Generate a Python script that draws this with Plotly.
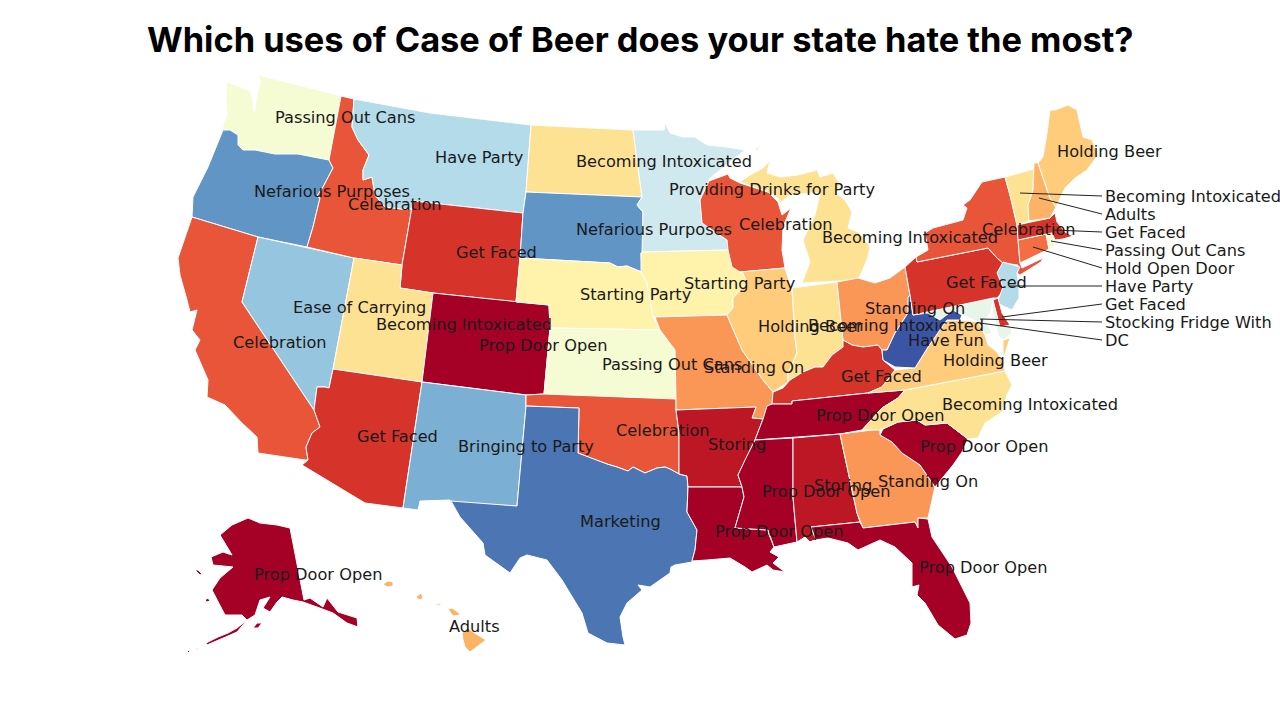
import plotly.graph_objects as go

# outlines, no topojson available offline
WA = [(227,82),(250,91),(253,100),(253,111),(255,111),(256,100),(258,90),(261,82),(258,75),(341,96),(329,160),(298,154),(275,154),(255,150),(243,150),(238,145),(238,135),(230,130),(223,130),(223,123),(227,117),(226,97)]
OR = [(223,130),(230,130),(238,135),(238,145),(243,150),(255,150),(275,154),(298,154),(329,160),(333,168),(323,187),(317,196),(320,198),(317,210),(313,227),(307,247),(258,237),(192,217),(193,197),(208,167),(222,132)]
CA = [(192,217),(258,237),(242,302),(314,410),(320,427),(312,433),(306,447),(308,460),(305,460),(258,453),(257,437),(242,423),(225,405),(207,397),(208,380),(195,350),(200,340),(192,330),(197,310),(190,312),(187,300),(180,275),(178,258),(186,235)]
NV = [(258,237),(354,258),(333,369),(329,388),(325,387),(317,387),(314,410),(242,302)]
ID = [(341,96),(354,99),(352,127),(358,140),(369,155),(363,170),(363,180),(372,177),(375,195),(385,207),(402,209),(412,209),(413,201),(402,265),(354,258),(307,247),(313,227),(317,210),(320,198),(317,196),(323,187),(333,168),(329,160)]
MT = [(354,99),(430,113),(531,125),(526,192),(523,213),(413,201),(412,209),(402,209),(385,207),(375,195),(372,177),(363,180),(363,170),(369,155),(358,140),(352,127)]
WY = [(413,201),(523,213),(520,258),(516,302),(433,293),(400,288),(402,265)]
UT = [(354,258),(402,265),(400,288),(433,293),(422,382),(333,369)]
AZ = [(333,369),(422,382),(403,508),(365,503),(302,465),(308,460),(306,447),(312,433),(320,427),(314,410),(317,387),(325,387),(329,388)]
CO = [(433,293),(516,302),(549,305),(550,328),(544,394),(526,395),(422,382)]
NM = [(422,382),(526,395),(526,406),(517,506),(451,503),(450,500),(420,501),(418,510),(403,508)]
ND = [(531,125),(633,130),(642,197),(526,192)]
SD = [(526,192),(642,197),(637,205),(643,212),(643,252),(641,253),(642,272),(627,266),(618,267),(610,263),(520,258),(523,213)]
NE = [(520,258),(610,263),(618,267),(627,266),(641,272),(647,283),(653,317),(660,330),(550,328),(549,305),(516,302)]
KS = [(550,328),(660,330),(675,350),(676,399),(544,394)]
OK = [(526,395),(544,394),(676,399),(676,410),(679,433),(679,474),(670,469),(665,467),(657,468),(645,473),(633,467),(628,471),(617,467),(607,464),(593,459),(578,453),(579,408),(526,406)]
TX = [(526,406),(579,408),(578,453),(593,459),(607,464),(617,467),(628,471),(633,467),(645,473),(657,468),(665,467),(670,469),(679,474),(687,476),(688,487),(687,512),(697,530),(695,550),(692,562),(675,565),(671,567),(670,573),(650,587),(638,585),(642,590),(627,603),(620,617),(623,637),(625,645),(607,643),(588,633),(582,613),(562,580),(547,560),(527,555),(520,558),(510,573),(485,555),(483,543),(460,517),(451,501),(517,506)]
MN = [(633,130),(664,130),(665,123),(670,133),(683,137),(695,137),(707,145),(727,147),(745,150),(710,178),(709,181),(700,200),(702,223),(727,240),(728,250),(642,252),(643,212),(637,205),(642,197)]
IA = [(642,252),(728,250),(732,267),(743,273),(747,283),(733,298),(733,308),(727,315),(655,317),(653,317),(647,283),(641,272),(641,253)]
MO = [(655,317),(727,315),(742,350),(763,380),(773,392),(772,404),(763,419),(752,418),(756,407),(676,410),(676,399),(675,350),(660,330)]
AR = [(676,410),(756,407),(752,418),(763,419),(755,440),(745,460),(738,475),(742,487),(688,487),(687,476),(679,474),(679,433)]
LA = [(688,487),(742,487),(744,497),(735,528),(768,530),(768,532),(774,547),(770,552),(779,557),(773,563),(785,572),(773,570),(767,565),(752,572),(745,567),(730,558),(707,560),(692,561),(695,550),(697,530),(687,512)]
WI = [(709,181),(728,174),(730,178),(740,183),(768,192),(778,202),(782,215),(791,208),(783,227),(782,250),(785,268),(740,272),(732,267),(728,250),(727,240),(702,223),(700,200)]
IL = [(740,272),(785,268),(792,290),(795,337),(797,353),(788,373),(788,382),(780,387),(773,392),(763,380),(742,350),(727,315),(733,308),(733,298),(747,283),(743,273)]
IN = [(792,288),(837,282),(843,340),(843,347),(832,355),(823,367),(815,367),(803,372),(790,380),(788,382),(788,373),(797,353),(795,337)]
MI = [(740,182),(750,175),(763,168),(770,160),(767,173),(780,177),(798,175),(817,170),(820,177),(833,173),(840,184),(836,193),(845,200),(852,212),(848,228),(858,232),(863,237),(870,247),(867,260),(858,280),(802,283),(810,262),(803,240),(815,215),(818,202),(820,193),(812,193),(790,195),(780,203),(778,198),(768,192)]
MI_ISLE = [(755,150),(760,145),(758,150)]
OH = [(837,282),(858,278),(875,283),(890,278),(905,267),(910,295),(908,313),(895,333),(887,350),(882,350),(878,345),(863,347),(852,345),(843,340)]
KY = [(772,404),(773,392),(783,388),(790,380),(803,372),(815,367),(823,367),(832,355),(843,347),(843,340),(852,345),(863,347),(878,345),(882,350),(883,360),(895,370),(882,387),(868,393),(792,401),(792,404)]
TN = [(767,406),(772,404),(792,404),(792,401),(868,393),(905,390),(898,398),(882,408),(862,430),(840,434),(755,440),(763,419)]
MS = [(755,440),(793,438),(793,497),(797,542),(774,547),(768,532),(768,530),(735,528),(744,497),(742,487),(738,475),(745,460)]
AL = [(793,438),(840,434),(857,513),(860,522),(811,527),(816,540),(810,542),(805,537),(797,542),(793,497)]
GA = [(840,434),(880,429),(880,435),(892,442),(902,453),(920,465),(935,487),(928,518),(918,518),(918,528),(915,522),(863,528),(857,513)]
FL = [(811,527),(860,522),(863,528),(915,522),(918,528),(918,518),(928,519),(932,537),(952,567),(970,603),(971,623),(967,635),(955,639),(938,625),(925,603),(917,595),(919,585),(912,587),(912,563),(895,547),(880,540),(858,550),(848,543),(828,538),(815,540),(810,542),(816,540)]
SC = [(880,435),(883,429),(898,422),(917,420),(925,425),(947,423),(968,439),(962,452),(953,465),(935,487),(920,465),(902,453),(892,442)]
NC = [(905,390),(1005,371),(1012,385),(1007,395),(1002,412),(985,423),(978,438),(968,439),(947,423),(925,425),(917,420),(898,422),(880,430),(862,430),(882,408),(898,398)]
VA = [(868,393),(882,387),(895,370),(915,368),(928,347),(940,330),(947,320),(960,320),(978,322),(985,335),(988,345),(997,352),(1003,362),(1005,371),(905,390)]
VA_SHORE = [(1003,340),(1010,338),(1003,360)]
MD_WEST = [(913,315),(993,298),(993,302),(990,313),(985,320),(992,333),(985,335),(978,322),(965,316),(953,310),(940,320),(928,313)]
MD_EAST = [(994,300),(998,299),(1002,313),(1010,325),(1012,333),(1003,340),(998,335),(995,323),(992,308)]
DC = [(981,323),(985,322),(984,326)]
WV = [(908,297),(910,295),(913,315),(928,313),(940,320),(953,310),(962,315),(960,320),(947,320),(940,330),(928,347),(915,368),(895,367),(883,360),(882,350),(887,350),(895,333),(908,313)]
PA = [(905,267),(916,257),(917,262),(988,248),(997,258),(1003,263),(998,272),(1007,287),(997,298),(993,298),(913,315),(910,295)]
NY = [(917,262),(916,257),(928,250),(925,233),(933,228),(963,220),(967,208),(963,205),(970,200),(982,182),(1005,177),(1010,195),(1017,225),(1018,240),(1020,263),(1022,268),(1043,258),(1041,262),(1020,275),(1017,273),(1018,265),(1003,263),(997,258),(988,248)]
NJ = [(1003,262),(1020,267),(1017,273),(1019,287),(1019,298),(1012,310),(997,303),(1003,287),(997,273)]
DE = [(993,300),(998,298),(1002,313),(1010,325),(1000,327)]
CT = [(1018,240),(1046,234),(1049,249),(1020,263)]
RI = [(1046,234),(1052,233),(1055,247),(1049,249)]
MA = [(1017,225),(1050,218),(1055,213),(1057,222),(1065,232),(1073,236),(1063,239),(1055,240),(1052,233),(1046,234),(1018,240)]
VT = [(1005,177),(1034,169),(1033,190),(1028,205),(1029,221),(1017,225),(1010,195)]
NH = [(1034,163),(1038,163),(1050,198),(1056,207),(1050,218),(1029,221),(1028,205),(1033,190)]
ME = [(1038,163),(1043,157),(1047,133),(1050,110),(1055,110),(1068,105),(1077,110),(1083,137),(1092,140),(1098,155),(1087,170),(1075,178),(1065,188),(1056,207),(1050,198)]
AK = [(290,528),(304,600),(310,598),(323,607),(327,598),(338,612),(357,618),(358,627),(347,623),(333,613),(317,607),(303,602),(293,600),(282,597),(277,602),(270,612),(263,608),(270,597),(260,600),(255,615),(247,620),(242,615),(225,615),(212,590),(220,578),(233,567),(213,565),(211,557),(223,552),(232,555),(220,535),(232,525),(248,518),(260,523),(277,525)]
AK_PENINSULA = [(247,620),(237,632),(228,636),(218,640),(207,645),(206,643),(218,637),(228,633),(237,628)]
AK_KODIAK = [(253,628),(257,623),(262,623),(258,628)]
AK_LAWRENCE = [(195,570),(198,570),(202,574),(200,575)]
AK_NUNIVAK = [(205,600),(208,598),(210,601),(207,602)]
AK_ALEUT1 = [(187,651),(190,650),(189,653)]
AK_ALEUT2 = [(196,648),(198,648),(197,650)]
AK_ALEUT3 = [(104,623),(106,623),(105,624)]
HI_KAUAI = [(383,584),(388,581),(393,582),(393,586),(387,587)]
HI_OAHU = [(416,597),(421,593),(423,597),(421,600),(418,599)]
HI_MOLOKAI = [(435,604),(440,603),(441,605),(436,605)]
HI_MAUI = [(448,609),(452,608),(459,613),(460,615),(453,616)]
HI_BIG = [(462,633),(468,628),(473,632),(486,640),(470,652),(465,647),(463,640)]

outlines = {
    "WA": [WA], "OR": [OR], "CA": [CA], "NV": [NV], "ID": [ID], "MT": [MT], "WY": [WY], "UT": [UT],
    "AZ": [AZ], "CO": [CO], "NM": [NM], "ND": [ND], "SD": [SD], "NE": [NE], "KS": [KS], "OK": [OK],
    "TX": [TX], "MN": [MN], "IA": [IA], "MO": [MO], "AR": [AR], "LA": [LA], "WI": [WI], "IL": [IL],
    "IN": [IN], "MI": [MI, MI_ISLE], "OH": [OH], "KY": [KY], "TN": [TN], "MS": [MS],
    "AL": [AL], "GA": [GA], "FL": [FL], "SC": [SC], "NC": [NC], "MD": [MD_WEST, MD_EAST], "DC": [DC], "VA": [VA, VA_SHORE],
    "WV": [WV], "PA": [PA], "NY": [NY], "NJ": [NJ], "DE": [DE], "CT": [CT], "RI": [RI], "MA": [MA],
    "VT": [VT], "NH": [NH], "ME": [ME],
    "AK": [AK, AK_PENINSULA, AK_KODIAK, AK_LAWRENCE, AK_NUNIVAK, AK_ALEUT1, AK_ALEUT2, AK_ALEUT3],
    "HI": [HI_KAUAI, HI_OAHU, HI_MOLOKAI, HI_MAUI, HI_BIG],
}

answers = {
    "WA": "Passing Out Cans", "OR": "Nefarious Purposes", "CA": "Celebration", "NV": "Ease of Carrying",
    "ID": "Celebration", "MT": "Have Party", "WY": "Get Faced", "UT": "Becoming Intoxicated",
    "AZ": "Get Faced", "CO": "Prop Door Open", "NM": "Bringing to Party", "ND": "Becoming Intoxicated",
    "SD": "Nefarious Purposes", "NE": "Starting Party", "KS": "Passing Out Cans", "OK": "Celebration",
    "TX": "Marketing", "MN": "Providing Drinks for Party", "IA": "Starting Party", "MO": "Standing On",
    "AR": "Storing", "LA": "Prop Door Open", "WI": "Celebration", "IL": "Holding Beer",
    "IN": "Becoming Intoxicated", "MI": "Becoming Intoxicated", "OH": "Standing On", "KY": "Get Faced",
    "TN": "Prop Door Open", "MS": "Prop Door Open", "AL": "Storing", "GA": "Standing On",
    "FL": "Prop Door Open", "SC": "Prop Door Open", "NC": "Becoming Intoxicated", "VA": "Holding Beer",
    "WV": "Have Fun", "PA": "Get Faced", "NY": "Celebration", "ME": "Holding Beer",
    "AK": "Prop Door Open", "HI": "Adults",
    "VT": "Becoming Intoxicated", "NH": "Adults", "MA": "Get Faced", "RI": "Passing Out Cans",
    "CT": "Hold Open Door", "NJ": "Have Party", "DE": "Get Faced", "MD": "Stocking Fridge With", "DC": "DC",
}

colors = {
    "Prop Door Open": "#a50026", "Storing": "#bd1726", "Get Faced": "#d6342a", "Celebration": "#e95538",
    "Hold Open Door": "#f46d43", "Standing On": "#fa9656", "Adults": "#fdb365", "Holding Beer": "#fecc7b",
    "Becoming Intoxicated": "#fee294", "Starting Party": "#fff3ac", "Passing Out Cans": "#f5fbd2",
    "Stocking Fridge With": "#e8f5ea", "DC": "#e8f5ea", "Providing Drinks for Party": "#cfe9ef", "Have Party": "#b3dbea",
    "Ease of Carrying": "#96c6df", "Bringing to Party": "#7bafd3", "Nefarious Purposes": "#6195c6",
    "Marketing": "#4b76b3", "Have Fun": "#3b55a4",
}

# where each state's label starts
label_states = ["WA","OR","CA","NV","ID","MT","WY","UT","AZ","CO","NM","ND","SD","NE","KS","OK","TX","MN","IA","MO","AR","LA","WI","IL","MI","IN","OH","KY","TN","MS","AL","GA","FL","SC","NC","VA","WV","PA","NY","ME","AK","HI"]
label_x = [275,254,233,293,348,435,456,376,357,479,458,576,576,580,602,616,580,669,684,704,708,715,739,758,822,808,865,841,816,762,814,878,919,920,942,943,908,946,982,1057,254,449]
label_y = [119,193,344,309,206,159,254,326,438,347,448,163,231,296,366,432,523,191,285,369,446,533,226,328,239,327,310,378,417,493,487,483,569,448,406,362,342,284,231,153,576,628]

# small states labelled off to the right with a leader line
side_states = ["VT","NH","MA","RI","CT","NJ","DE","MD","DC"]
side_y = [198,216,234,252,270,288,306,324,342]
leader_x = [1020,1039,1053,1051,1033,1010,1002,980,980]
leader_y = [193,198,230,241,247,286,317,319,323]
line_end_y = [196,214,232,250,268,286,304,322,340]
side_x = 1105

fig = go.Figure()

for st, polys in outlines.items():
    xs, ys = [], []
    for poly in polys:
        xs += [p[0] for p in poly] + [poly[0][0], None]
        ys += [p[1] for p in poly] + [poly[0][1], None]
    fig.add_trace(go.Scatter(x=xs, y=ys, mode="lines", fill="toself",
                             fillcolor=colors[answers[st]], line=dict(color="white", width=1),
                             name=st, hoverinfo="name"))

line_x, line_y = [], []
for lx, ly, ey in zip(leader_x, leader_y, line_end_y):
    line_x += [lx, side_x - 3, None]
    line_y += [ly, ey, None]
fig.add_trace(go.Scatter(x=line_x, y=line_y, mode="lines", line=dict(color="#222222", width=1), hoverinfo="skip"))

fig.add_trace(go.Scatter(x=label_x, y=label_y, mode="text", text=[answers[s] for s in label_states],
                         textposition="middle right", textfont=dict(family="DejaVu Sans", size=16.2, color="#1a1a1a"),
                         hoverinfo="skip"))
fig.add_trace(go.Scatter(x=[side_x] * len(side_y), y=side_y, mode="text", text=[answers[s] for s in side_states],
                         textposition="middle right", textfont=dict(family="DejaVu Sans", size=16.2, color="#1a1a1a"),
                         hoverinfo="skip"))

fig.update_layout(
    width=1280, height=720, showlegend=False,
    margin=dict(l=0, r=0, t=0, b=0),
    plot_bgcolor="white", paper_bgcolor="white",
    xaxis=dict(range=[0, 1280], visible=False),
    yaxis=dict(range=[720, 0], visible=False),
    annotations=[dict(text="<b>Which uses of Case of Beer does your state hate the most?</b>",
                      x=640, y=39, xref="x", yref="y", showarrow=False,
                      font=dict(family="Inter", size=34.4, color="black"))],
)

# page body has an 8px margin otherwise
fig.write_html("out.html", config=dict(displayModeBar=False), post_script="document.body.style.margin='0';")
